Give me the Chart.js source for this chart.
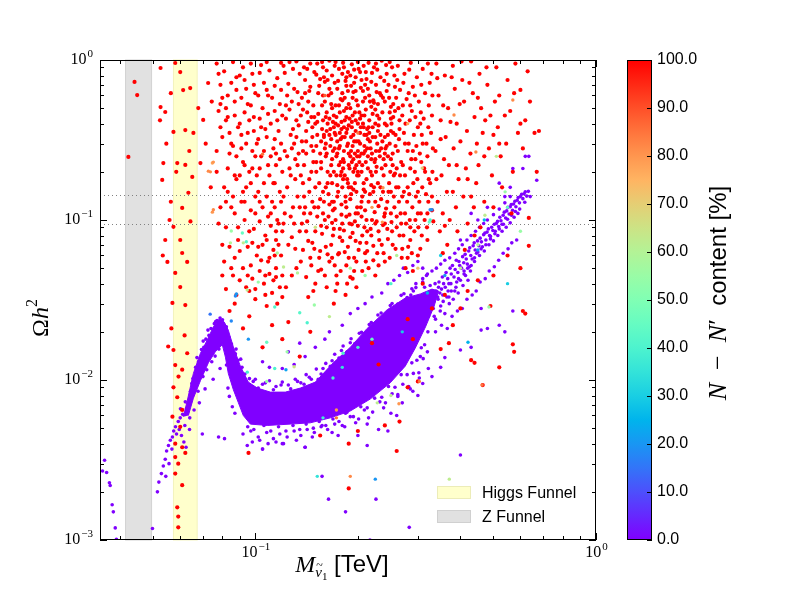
<!DOCTYPE html>
<html lang="en">
<head>
    <meta charset="UTF-8">
    <title>Sneutrino relic density</title>
    <script src="https://cdn.jsdelivr.net/npm/chart.js"></script>
    <style>
        body { margin: 0; background: #fff; }
        canvas { display: block; }
    </style>
</head>
<body>
<canvas id="relic" width="800" height="600"></canvas>
<script>
// axis ranges and reference bands (TeV / Omega h^2)
const xRange = [0.035, 1];
const yRange = [0.001, 1];
const zFunnel = [0.0416, 0.0496];
const higgsFunnel = [0.0575, 0.0675];
const relicBounds = [0.094, 0.143];

// tick values and labels
const xMajorTicks = [0.1, 1];
const xMajorExp = ['\u22121', '0'];
const xMinorTicks = [0.04, 0.05, 0.06, 0.07, 0.08, 0.09, 0.2, 0.3, 0.4, 0.5, 0.6, 0.7, 0.8, 0.9];
const yMajorTicks = [0.001, 0.01, 0.1, 1];
const yMajorExp = ['\u22123', '\u22122', '\u22121', '0'];
const yMinorTicks = [0.002, 0.003, 0.004, 0.005, 0.006, 0.007, 0.008, 0.009,
    0.02, 0.03, 0.04, 0.05, 0.06, 0.07, 0.08, 0.09,
    0.2, 0.3, 0.4, 0.5, 0.6, 0.7, 0.8, 0.9];
const cbTicks = [0, 10, 20, 30, 40, 50, 60, 70, 80, 90, 100];

// N-N' content ~100%  (red)
const redCloud = [
    [0.121,0.92],[0.125,0.71],[0.128,0.55],[0.123,0.43],[0.127,0.34],[0.122,0.27],[0.126,0.21],[0.124,0.16],[0.129,0.12],[0.121,0.095],[0.128,0.078],
    [0.132,0.98],[0.135,0.82],[0.133,0.63],[0.138,0.49],[0.134,0.39],[0.137,0.31],[0.131,0.24],[0.136,0.19],[0.133,0.14],[0.139,0.11],[0.135,0.085],[0.131,0.066],
    [0.142,0.88],[0.145,0.68],[0.148,0.52],[0.143,0.41],[0.147,0.33],[0.141,0.26],[0.146,0.2],[0.144,0.15],[0.149,0.12],[0.142,0.098],[0.147,0.072],[0.145,0.058],
    [0.152,0.95],[0.155,0.76],[0.158,0.6],[0.153,0.46],[0.157,0.37],[0.151,0.29],[0.156,0.23],[0.154,0.17],[0.159,0.13],[0.152,0.105],[0.157,0.082],[0.155,0.064],[0.153,0.048],
    [0.162,0.86],[0.165,0.66],[0.168,0.5],[0.163,0.4],[0.167,0.32],[0.161,0.25],[0.166,0.19],[0.164,0.145],[0.169,0.115],[0.162,0.09],[0.167,0.07],[0.165,0.055],
    [0.172,0.97],[0.175,0.74],[0.178,0.57],[0.173,0.44],[0.177,0.35],[0.171,0.28],[0.176,0.22],[0.174,0.165],[0.179,0.125],[0.172,0.1],[0.177,0.078],[0.175,0.061],[0.173,0.045],
    [0.182,0.9],[0.185,0.69],[0.188,0.53],[0.183,0.42],[0.187,0.3],[0.181,0.24],[0.186,0.18],[0.184,0.14],[0.189,0.108],[0.182,0.086],[0.187,0.068],[0.185,0.052],
    [0.192,0.94],[0.195,0.72],[0.198,0.56],[0.193,0.45],[0.197,0.36],[0.191,0.27],[0.196,0.21],[0.194,0.155],[0.199,0.12],[0.192,0.094],[0.197,0.074],[0.195,0.058],[0.193,0.043],
    [0.203,0.84],[0.207,0.64],[0.211,0.49],[0.204,0.38],[0.209,0.29],[0.202,0.23],[0.208,0.17],[0.205,0.13],[0.212,0.1],[0.206,0.08],[0.21,0.062],
    [0.215,0.96],[0.219,0.73],[0.223,0.54],[0.216,0.42],[0.221,0.33],[0.214,0.25],[0.22,0.19],[0.217,0.145],[0.224,0.112],[0.218,0.088],[0.222,0.069],
    [0.228,0.87],[0.232,0.62],[0.236,0.47],[0.229,0.36],[0.234,0.28],[0.227,0.215],[0.233,0.16],[0.23,0.122],[0.237,0.093],[0.231,0.075],
    [0.242,0.93],[0.246,0.7],[0.25,0.51],[0.243,0.39],[0.248,0.3],[0.241,0.22],[0.247,0.17],[0.244,0.13],[0.251,0.097],[0.245,0.076],
    [0.256,0.8],[0.259,0.58],[0.254,0.44],[0.258,0.34],[0.253,0.26],[0.257,0.195],[0.255,0.14],[0.26,0.105],
    [0.124,0.6],[0.13,0.3],[0.14,0.75],[0.139,0.22],[0.15,0.4],[0.15,0.16],[0.16,0.55],[0.16,0.28],[0.17,0.45],[0.17,0.2],[0.17,0.13],
    [0.18,0.62],[0.18,0.33],[0.18,0.16],[0.19,0.5],[0.19,0.25],[0.19,0.135],[0.2,0.4],[0.2,0.2],[0.2,0.11],[0.21,0.58],[0.21,0.27],
    [0.21,0.15],[0.225,0.4],[0.225,0.24],[0.225,0.13],[0.24,0.55],[0.24,0.26],[0.24,0.11],[0.25,0.36],[0.25,0.15],
    [0.163,0.75],[0.176,0.88],[0.19,0.8],[0.205,0.75],[0.22,0.83],[0.145,0.95],[0.165,0.99],[0.185,0.78],[0.2,0.97],[0.235,0.99],
    [0.168,0.24],[0.182,0.27],[0.178,0.19],[0.196,0.17],[0.188,0.22],[0.174,0.31],[0.159,0.34],[0.17,0.38],[0.186,0.37],[0.201,0.31],[0.179,0.41],[0.193,0.29],
    [0.137,0.58],[0.141,0.36],[0.148,0.27],[0.153,0.62],[0.156,0.31],[0.161,0.44],[0.163,0.2],[0.167,0.53],[0.171,0.35],[0.174,0.26],
    [0.177,0.47],[0.181,0.18],[0.183,0.58],[0.186,0.29],[0.189,0.43],[0.191,0.16],[0.194,0.34],[0.197,0.64],[0.199,0.25],[0.202,0.47],
    [0.206,0.14],[0.208,0.38],[0.211,0.23],[0.214,0.66],[0.217,0.31],[0.221,0.46],[0.226,0.2],[0.229,0.53],[0.233,0.34],[0.238,0.24],
    [0.179,0.108],[0.168,0.096],[0.158,0.11],[0.185,0.12],[0.196,0.098],[0.213,0.085],[0.143,0.074],[0.176,0.062],[0.161,0.068],[0.201,0.065],
    [0.132,0.42],[0.127,0.19],[0.139,0.14],[0.149,0.84],[0.171,0.72],[0.195,0.87],[0.208,0.92],[0.226,0.7],[0.243,0.82],[0.158,0.9],
    [0.122,0.83],[0.126,0.49],[0.129,0.37],[0.124,0.25],[0.121,0.14],[0.127,0.105],[0.13,0.66],[0.134,0.53],[0.136,0.45],[0.132,0.33],
    [0.138,0.27],[0.131,0.18],[0.135,0.12],[0.137,0.095],[0.14,0.62],[0.143,0.55],[0.146,0.44],[0.141,0.31],[0.148,0.23],[0.144,0.18],
    [0.147,0.13],[0.141,0.085],[0.149,0.066],[0.151,0.81],[0.154,0.69],[0.157,0.52],[0.152,0.41],[0.159,0.33],[0.155,0.26],[0.151,0.2],
    [0.158,0.15],[0.153,0.12],[0.156,0.092],[0.16,0.73],[0.164,0.6],[0.162,0.47],[0.166,0.37],[0.161,0.3],[0.167,0.22],[0.163,0.17],
    [0.168,0.13],[0.164,0.105],[0.169,0.08],[0.171,0.92],[0.174,0.66],[0.176,0.52],[0.172,0.4],[0.178,0.32],[0.173,0.25],[0.179,0.2],
    [0.175,0.15],[0.171,0.118],[0.177,0.088],[0.18,0.82],[0.184,0.74],[0.187,0.64],[0.182,0.48],[0.188,0.39],[0.183,0.33],[0.181,0.21],
    [0.187,0.17],[0.184,0.13],[0.189,0.095],[0.191,0.69],[0.193,0.58],[0.196,0.47],[0.192,0.38],[0.198,0.31],[0.194,0.24],[0.199,0.19],
    [0.191,0.145],[0.197,0.11],[0.193,0.083],[0.201,0.88],[0.204,0.67],[0.207,0.55],[0.203,0.43],[0.209,0.34],[0.205,0.26],[0.201,0.19],
    [0.208,0.155],[0.204,0.12],[0.209,0.09],[0.212,0.76],[0.216,0.6],[0.219,0.51],[0.213,0.37],[0.218,0.28],[0.214,0.21],[0.219,0.165],
    [0.215,0.13],[0.212,0.072],[0.223,0.9],[0.227,0.63],[0.225,0.49],[0.221,0.38],[0.228,0.3],[0.224,0.23],[0.229,0.17],[0.222,0.15],
    [0.227,0.098],[0.233,0.78],[0.237,0.58],[0.231,0.43],[0.236,0.31],[0.232,0.25],[0.238,0.19],[0.234,0.135],[0.239,0.105],[0.243,0.64],
    [0.248,0.47],[0.245,0.34],[0.241,0.28],[0.249,0.2],[0.246,0.15],[0.242,0.118],[0.252,0.9],[0.257,0.68],[0.254,0.53],[0.251,0.4],
    [0.258,0.29],[0.253,0.22],[0.259,0.16],[0.256,0.12],[0.252,0.085],
    [0.128,0.28],[0.133,0.22],[0.142,0.47],[0.147,0.38],[0.152,0.34],[0.158,0.42],[0.162,0.26],[0.166,0.29],[0.169,0.41],[0.173,0.19],
    [0.176,0.28],[0.179,0.37],[0.182,0.23],[0.185,0.44],[0.188,0.26],[0.191,0.33],[0.194,0.2],[0.197,0.42],[0.2,0.27],[0.203,0.35],
    [0.206,0.22],[0.209,0.45],[0.213,0.28],[0.216,0.35],[0.219,0.24],[0.222,0.56],[0.226,0.27],[0.23,0.39],[0.235,0.21],[0.24,0.33],
    [0.245,0.25],[0.25,0.43],[0.255,0.19],
    [0.125,0.07],[0.138,0.065],[0.146,0.052],[0.154,0.058],[0.163,0.061],[0.171,0.052],[0.18,0.074],[0.188,0.058],[0.195,0.048],[0.203,0.072],
    [0.211,0.055],[0.219,0.08],[0.228,0.062],[0.235,0.07],[0.244,0.088],[0.253,0.07],[0.16,0.045],[0.178,0.048],[0.186,0.04],[0.198,0.038],
    [0.215,0.05],[0.225,0.045],[0.24,0.055],[0.15,0.04],[0.132,0.05],
    [0.126,0.97],[0.139,0.9],[0.157,0.97],[0.168,0.8],[0.181,0.96],[0.197,0.78],[0.211,0.84],[0.226,0.95],[0.239,0.74],[0.248,0.97],
    [0.123,0.52],[0.129,0.88],[0.134,0.26],[0.138,0.17],[0.144,0.64],[0.149,0.44],[0.151,0.23],[0.155,0.135],[0.159,0.78],[0.161,0.16],
    [0.165,0.34],[0.167,0.62],[0.169,0.27],[0.172,0.52],[0.174,0.14],[0.177,0.29],[0.18,0.56],[0.183,0.19],[0.185,0.35],[0.187,0.84],
    [0.189,0.21],[0.192,0.41],[0.194,0.63],[0.196,0.26],[0.198,0.15],[0.2,0.52],[0.203,0.3],[0.205,0.2],[0.207,0.4],[0.21,0.7],
    [0.212,0.18],[0.214,0.32],[0.217,0.55],[0.22,0.26],[0.223,0.16],[0.225,0.33],[0.228,0.45],[0.231,0.27],[0.234,0.6],[0.237,0.15],
    [0.24,0.4],[0.243,0.29],[0.247,0.58],[0.25,0.24],[0.254,0.35],[0.257,0.48],[0.26,0.21],
    [0.165,0.43],[0.175,0.39],[0.185,0.5],[0.195,0.31],[0.205,0.45],[0.215,0.38],[0.168,0.17],[0.178,0.23],[0.188,0.16],[0.198,0.22],
    [0.208,0.26],[0.218,0.2],[0.182,0.38],[0.192,0.23],[0.202,0.25],[0.212,0.34],[0.172,0.34],[0.162,0.36],[0.156,0.21],[0.146,0.29],
    [0.128,0.045],[0.136,0.055],[0.141,0.044],[0.148,0.036],[0.156,0.049],[0.162,0.038],[0.168,0.058],[0.174,0.04],[0.183,0.063],[0.19,0.044],
    [0.198,0.055],[0.206,0.048],[0.213,0.064],[0.222,0.056],[0.23,0.052],[0.238,0.062],[0.248,0.058],[0.258,0.066],[0.184,0.034],[0.172,0.036],
    [0.143,0.033],[0.123,0.038],
    [0.122,0.11],[0.13,0.095],[0.14,0.12],[0.15,0.085],[0.16,0.1],[0.17,0.088],[0.18,0.095],[0.19,0.078],[0.2,0.092],[0.21,0.115],
    [0.22,0.1],[0.23,0.085],[0.24,0.095],[0.25,0.11],[0.26,0.09],[0.145,0.11],[0.165,0.125],[0.185,0.105],[0.205,0.105],[0.225,0.095]
];
const redLeft = [
    [0.077,0.95],[0.079,0.7],[0.078,0.48],[0.08,0.33],[0.077,0.2],[0.079,0.12],[0.081,0.85],[0.083,0.6],[0.082,0.42],[0.084,0.26],[0.083,0.15],[0.082,0.09],[0.081,0.055],
    [0.086,0.97],[0.088,0.78],[0.087,0.55],[0.089,0.38],[0.086,0.29],[0.088,0.18],[0.087,0.11],[0.089,0.075],[0.086,0.045],[0.088,0.034],
    [0.092,0.9],[0.094,0.66],[0.093,0.47],[0.095,0.35],[0.092,0.23],[0.094,0.16],[0.093,0.1],[0.095,0.068],[0.092,0.05],[0.094,0.038],
    [0.098,0.82],[0.1,0.62],[0.099,0.44],[0.101,0.3],[0.098,0.21],[0.1,0.14],[0.099,0.088],[0.101,0.06],[0.098,0.043],[0.1,0.032],
    [0.104,0.93],[0.106,0.72],[0.105,0.5],[0.107,0.37],[0.104,0.25],[0.106,0.17],[0.105,0.12],[0.107,0.08],[0.104,0.056],[0.106,0.04],
    [0.11,0.86],[0.112,0.58],[0.111,0.4],[0.113,0.28],[0.11,0.19],[0.112,0.13],[0.111,0.092],[0.113,0.065],[0.11,0.046],[0.112,0.035],
    [0.116,0.77],[0.118,0.53],[0.117,0.36],[0.115,0.22],[0.118,0.15],[0.116,0.1],[0.117,0.07],[0.115,0.05],[0.118,0.038],
    [0.084,0.027],[0.096,0.025],[0.108,0.029],[0.092,0.021],[0.12,0.045],[0.12,0.033],
    [0.078,0.82],[0.08,0.58],[0.079,0.38],[0.077,0.27],[0.081,0.16],[0.078,0.095],[0.08,0.07],[0.082,0.5],[0.084,0.35],[0.083,0.21],
    [0.085,0.12],[0.084,0.068],[0.085,0.72],[0.087,0.45],[0.088,0.25],[0.086,0.14],[0.089,0.09],[0.087,0.058],[0.09,0.8],[0.091,0.58],
    [0.09,0.4],[0.091,0.28],[0.09,0.19],[0.091,0.13],[0.09,0.064],[0.093,0.75],[0.095,0.53],[0.094,0.3],[0.096,0.2],[0.093,0.13],
    [0.096,0.085],[0.097,0.95],[0.099,0.7],[0.097,0.52],[0.099,0.36],[0.1,0.25],[0.097,0.17],[0.1,0.11],[0.098,0.072],[0.103,0.83],
    [0.102,0.6],[0.103,0.43],[0.102,0.32],[0.103,0.21],[0.102,0.15],[0.103,0.098],[0.102,0.068],[0.108,0.97],[0.108,0.65],[0.109,0.46],
    [0.108,0.33],[0.109,0.22],[0.108,0.14],[0.109,0.105],[0.108,0.075],[0.109,0.055],[0.114,0.69],[0.114,0.48],[0.114,0.32],[0.115,0.26],
    [0.114,0.17],[0.114,0.12],[0.115,0.085],[0.114,0.06],[0.119,0.96],[0.119,0.65],[0.12,0.45],[0.119,0.3],[0.12,0.2],[0.119,0.13],
    [0.12,0.085],[0.119,0.06],[0.082,0.037],[0.09,0.042],[0.097,0.052],[0.103,0.048],[0.107,0.034],[0.113,0.042],[0.116,0.03],[0.087,0.03],[0.1,0.037],
    [0.079,0.53],[0.083,0.44],[0.085,0.3],[0.088,0.65],[0.091,0.34],[0.093,0.22],[0.096,0.42],[0.098,0.27],[0.101,0.19],[0.104,0.38],
    [0.106,0.27],[0.109,0.6],[0.111,0.25],[0.113,0.17],[0.116,0.42],[0.118,0.24],[0.082,0.13],[0.087,0.19],[0.092,0.15],[0.097,0.115],
    [0.103,0.13],[0.111,0.11],[0.117,0.095],[0.08,0.045],[0.085,0.05],[0.095,0.045],[0.105,0.07],[0.11,0.058],[0.115,0.075],
    [0.115,0.044],[0.107,0.045],[0.096,0.036]
];
const redRight = [
    [0.262,0.92],[0.266,0.65],[0.27,0.45],[0.264,0.32],[0.268,0.23],[0.263,0.16],[0.267,0.11],[0.265,0.08],[0.269,0.058],
    [0.274,0.82],[0.278,0.57],[0.276,0.4],[0.28,0.27],[0.275,0.19],[0.279,0.13],[0.277,0.095],[0.281,0.068],[0.276,0.05],
    [0.286,0.96],[0.29,0.68],[0.288,0.48],[0.292,0.34],[0.287,0.24],[0.291,0.17],[0.289,0.12],[0.293,0.085],[0.288,0.062],
    [0.298,0.78],[0.302,0.55],[0.3,0.38],[0.304,0.26],[0.299,0.18],[0.303,0.13],[0.301,0.09],[0.305,0.066],
    [0.31,0.88],[0.315,0.62],[0.312,0.43],[0.318,0.3],[0.313,0.21],[0.317,0.145],[0.314,0.1],[0.32,0.075],
    [0.325,0.72],[0.328,0.35],[0.326,0.17],[0.33,0.115],
    [0.261,0.75],[0.263,0.5],[0.265,0.37],[0.262,0.27],[0.266,0.19],[0.264,0.13],[0.268,0.095],[0.27,0.066],[0.272,0.72],[0.271,0.52],
    [0.273,0.35],[0.271,0.22],[0.273,0.15],[0.275,0.11],[0.283,0.87],[0.282,0.62],[0.284,0.42],[0.282,0.3],[0.285,0.21],[0.283,0.145],
    [0.284,0.1],[0.285,0.075],[0.294,0.6],[0.295,0.44],[0.297,0.29],[0.294,0.2],[0.296,0.14],[0.295,0.1],[0.307,0.7],[0.306,0.47],
    [0.308,0.34],[0.307,0.23],[0.309,0.16],[0.306,0.11],[0.308,0.08],[0.321,0.95],[0.323,0.52],[0.322,0.38],[0.32,0.25],[0.323,0.18],
    [0.322,0.13],[0.319,0.09],[0.329,0.82],[0.331,0.6],[0.33,0.45],[0.332,0.28],[0.331,0.2],[0.33,0.14],[0.333,0.098],[0.28,0.058],[0.3,0.06],[0.29,0.048],
    [0.265,0.42],[0.275,0.3],[0.285,0.52],[0.295,0.24],[0.305,0.4],[0.315,0.2],[0.27,0.14],[0.28,0.16],[0.29,0.27],[0.3,0.15],
    [0.31,0.3],[0.32,0.11],[0.272,0.08],[0.285,0.09],[0.3,0.11]
];
const redSparse = [
    [0.34,0.95],[0.345,0.6],[0.35,0.42],[0.338,0.27],[0.352,0.19],[0.343,0.13],[0.348,0.085],[0.355,0.062],
    [0.36,0.8],[0.368,0.5],[0.362,0.33],[0.37,0.22],[0.365,0.15],[0.372,0.1],[0.366,0.07],
    [0.38,0.92],[0.385,0.66],[0.39,0.4],[0.382,0.28],[0.395,0.18],[0.388,0.12],[0.392,0.085],
    [0.405,0.75],[0.41,0.55],[0.4,0.31],[0.415,0.21],[0.408,0.14],[0.42,0.095],[0.412,0.065],
    [0.43,0.98],[0.435,0.62],[0.44,0.44],[0.428,0.26],[0.445,0.17],[0.438,0.12],
    [0.455,0.82],[0.46,0.5],[0.465,0.35],[0.452,0.22],[0.47,0.13],[0.458,0.09],
    [0.48,0.7],[0.49,0.45],[0.485,0.28],[0.495,0.19],[0.5,0.12],
    [0.51,0.9],[0.52,0.6],[0.515,0.38],[0.525,0.25],[0.53,0.16],
    [0.55,0.75],[0.56,0.48],[0.545,0.3],[0.57,0.2],[0.565,0.11],
    [0.58,0.95],[0.6,0.65],[0.62,0.42],[0.61,0.28],[0.64,0.55],[0.66,0.35],[0.63,0.85],[0.68,0.36],[0.67,0.2],[0.635,0.103],[0.635,0.069],
    [0.342,0.77],[0.35,0.32],[0.356,0.52],[0.358,0.24],[0.374,0.41],[0.377,0.78],[0.39,0.22],[0.398,0.53],[0.403,0.98],[0.418,0.36],
    [0.425,0.72],[0.447,0.3],[0.45,0.58],[0.473,0.42],[0.477,0.9],[0.505,0.55],[0.52,0.3],[0.54,0.45],[0.575,0.62],[0.59,0.35],
    [0.34,0.18],[0.355,0.11],[0.36,0.092],[0.38,0.15],[0.42,0.18],[0.43,0.14],[0.44,0.08],[0.47,0.25],[0.5,0.34],[0.6,0.4]
];
const redLow = [
    [0.49,0.029],[0.61,0.027],[0.62,0.026],[0.57,0.0167],[0.575,0.015],[0.52,0.012],[0.465,0.0093],[0.43,0.0133],[0.44,0.0128],[0.35,0.0156],
    [0.37,0.017],[0.3,0.0098],[0.28,0.009],[0.26,0.0036],[0.265,0.0055],[0.188,0.004],[0.188,0.0021],[0.24,0.0052],[0.155,0.0045],[0.2,0.0048],
    [0.36,0.034],[0.38,0.022],[0.42,0.036],[0.33,0.028],[0.31,0.04],[0.29,0.018],[0.23,0.0125],[0.22,0.017],[0.135,0.014],[0.145,0.02],
    [0.17,0.03],[0.12,0.018],[0.125,0.023],[0.105,0.016],[0.112,0.022],[0.28,0.024],[0.4,0.028],[0.45,0.042],[0.5,0.045],[0.55,0.06],[0.6,0.05],[0.0955,0.0035]
];
const redFunnel = [
    [0.0442,0.729],[0.045,0.604],[0.0424,0.248],
    [0.0527,0.891],[0.0582,0.958],[0.0602,0.841],[0.0614,0.649],[0.0644,0.668],[0.0527,0.508],[0.0544,0.473],[0.0575,0.355],[0.0623,0.365],
    [0.0658,0.35],[0.0537,0.227],[0.0533,0.178],[0.059,0.227],[0.0623,0.221],[0.0653,0.186],[0.0636,0.148],[0.061,0.119],[0.0575,0.0906],
    [0.0602,0.075],[0.0544,0.075],[0.0552,0.0547],[0.061,0.0622],[0.0631,0.0547],[0.0582,0.0467],[0.0602,0.0381],[0.068,0.501],[0.069,0.227],
    [0.0703,0.422],[0.0727,0.718],[0.0571,0.0303],[0.0623,0.0294],[0.0555,0.0162],[0.0575,0.0154],[0.0631,0.0147],[0.0582,0.0124],[0.061,0.0116],
    [0.059,0.0078],[0.0571,0.0059],[0.061,0.0065],[0.0602,0.0051],[0.0582,0.004],[0.061,0.0038],[0.0594,0.003],[0.0582,0.0026],[0.061,0.0022],
    [0.059,0.0016],[0.0594,0.0014],[0.0594,0.0012],[0.0623,0.0035],[0.0582,0.0033],[0.0548,0.3],[0.0565,0.62],[0.0565,0.13],[0.0586,0.2],
    [0.064,0.27],[0.0525,0.42],[0.056,0.1],[0.0645,0.098],[0.0535,0.06],[0.0567,0.021],[0.062,0.019],[0.0575,0.009],[0.0595,0.0105],
    [0.0715,0.3],[0.074,0.16],[0.0745,0.55]
];

// N-N' content ~0%  (violet): outline of the solid band, then the loose points
const violetCore = [
    [0.0615,0.0059],[0.0632,0.0075],[0.0658,0.011],[0.069,0.0147],[0.0723,0.0178],[0.0753,0.0215],[0.0784,0.0241],[0.0811,0.023],
    [0.0833,0.0205],[0.0862,0.0161],[0.0904,0.0122],[0.0954,0.0097],[0.1014,0.0089],[0.1107,0.0084],[0.1225,0.0084],[0.1355,0.0089],
    [0.15,0.0097],[0.1693,0.0128],[0.19,0.016],[0.2129,0.021],[0.2438,0.0275],[0.2754,0.0325],[0.305,0.0345],[0.33,0.037],[0.345,0.036],
    [0.335,0.029],[0.316,0.0215],[0.2946,0.0158],[0.2754,0.0122],[0.2489,0.0096],[0.2174,0.0076],[0.19,0.0064],[0.166,0.0058],[0.145,0.0054],
    [0.1266,0.0053],[0.1084,0.0052],[0.0967,0.0053],[0.0922,0.006],[0.0892,0.0072],[0.0862,0.0087],[0.0833,0.011],[0.0817,0.0139],
    [0.08,0.0166],[0.0763,0.015],[0.0728,0.0128],[0.069,0.0099],[0.0658,0.0077],[0.0636,0.006]
];
const violetTail = [
    [0.0356,0.0027],[0.0361,0.00315],[0.0366,0.00264],[0.0373,0.00228],[0.0375,0.00219],[0.038,0.00166],[0.0383,0.0015],[0.0388,0.00119],[0.0391,0.00101],
    [0.0499,0.00118],[0.0516,0.002],[0.0521,0.0023],[0.053,0.0026],[0.0537,0.0029],[0.0544,0.0032],[0.0549,0.0036],[0.0556,0.0039],[0.0563,0.0042],
    [0.0571,0.0044],[0.0576,0.0048],[0.0583,0.0051],[0.0594,0.0055],[0.0602,0.0058],[0.0546,0.0025],[0.0558,0.003],[0.0569,0.0037],[0.0587,0.0046],
    [0.0598,0.0049],[0.0607,0.0045],[0.0617,0.0041],[0.0626,0.0038],[0.0621,0.0052],[0.0612,0.0061],[0.0603,0.0066],[0.0641,0.0049],[0.0699,0.0046],
    [0.078,0.0044],[0.0812,0.0043]
];
const violetPeak = [
    [0.0628,0.0066],[0.0645,0.0085],[0.0651,0.0095],[0.0668,0.012],[0.0681,0.013],[0.0695,0.0155],[0.0706,0.016],[0.0716,0.018],[0.0731,0.019],
    [0.0741,0.021],[0.0758,0.0225],[0.0772,0.0235],[0.0788,0.0244],[0.0801,0.0238],[0.0822,0.0215],[0.0623,0.0073],[0.0642,0.0058],[0.0661,0.0065],
    [0.0679,0.0085],[0.0702,0.0105],[0.072,0.0116],[0.0745,0.013],[0.0762,0.0141],[0.0782,0.0156],[0.0656,0.0102],[0.0674,0.0138],[0.0703,0.0175],
    [0.0726,0.0205],[0.0765,0.0232],[0.0836,0.0185],[0.0851,0.0168],[0.0874,0.0146],[0.0889,0.0133],[0.0914,0.012],[0.0932,0.0109],[0.0961,0.0102],
    [0.0986,0.0098],[0.0878,0.0156],[0.0906,0.0135],[0.0823,0.0124],[0.0839,0.0079],[0.0856,0.0068],[0.0871,0.0062],[0.0831,0.0089],[0.0788,0.0118],
    [0.0752,0.0101],[0.0712,0.0088],[0.0685,0.0072],[0.0737,0.0158],[0.0778,0.0198],[0.0815,0.0188]
];
const violetBowl = [
    [0.092,0.0046],[0.097,0.0048],[0.102,0.0044],[0.108,0.0047],[0.113,0.0043],[0.118,0.0046],[0.124,0.0044],[0.13,0.0048],[0.136,0.0045],[0.142,0.0049],
    [0.149,0.0047],[0.156,0.0051],[0.163,0.0049],[0.171,0.0053],[0.18,0.0052],[0.19,0.0059],[0.201,0.0057],[0.209,0.0065],[0.221,0.0063],[0.232,0.0073],
    [0.241,0.0072],[0.252,0.0082],[0.262,0.0081],[0.271,0.0094],[0.282,0.0091],[0.291,0.011],[0.302,0.0111],[0.311,0.0136],
    [0.1,0.0101],[0.105,0.0094],[0.11,0.0099],[0.115,0.0091],[0.12,0.0097],[0.125,0.0093],[0.131,0.0101],[0.136,0.0096],[0.141,0.0108],[0.146,0.0101],
    [0.151,0.0117],[0.156,0.0109],[0.161,0.0127],[0.166,0.0122],[0.171,0.0145],[0.176,0.0137],[0.181,0.0163],[0.186,0.015],[0.191,0.0181],[0.196,0.0169],
    [0.202,0.0196],[0.208,0.0186],[0.216,0.0222],[0.222,0.0212],[0.229,0.0255],[0.238,0.0245],[0.249,0.0292],[0.259,0.0285],[0.268,0.0338],[0.279,0.0328],[0.288,0.0372],
    [0.0947,0.0039],[0.098,0.0041],[0.103,0.0042],[0.109,0.004],[0.115,0.0041],[0.121,0.004],[0.14,0.0038],[0.105,0.0037],[0.132,0.0042],[0.147,0.0044],
    [0.168,0.0047],[0.183,0.0051],[0.197,0.0054],[0.215,0.0058],[0.238,0.0067],[0.262,0.0079],[0.285,0.0088],[0.303,0.0103],[0.322,0.0118],
    [0.102,0.0089],[0.107,0.0096],[0.113,0.0087],[0.119,0.0093],[0.127,0.0088],[0.133,0.0098],[0.139,0.0094],[0.144,0.0104],[0.153,0.0101],[0.158,0.0118],
    [0.163,0.0113],[0.168,0.0132],[0.174,0.013],[0.179,0.0153],[0.184,0.0145],[0.19,0.0171],[0.198,0.0165],[0.205,0.0199],[0.213,0.0198],[0.219,0.0229],
    [0.226,0.0224],[0.234,0.0262],[0.243,0.0258],[0.252,0.0301],[0.262,0.0298],[0.273,0.0346],[0.286,0.034],[0.296,0.0378],
    [0.095,0.0051],[0.099,0.0049],[0.106,0.0052],[0.111,0.0048],[0.117,0.0051],[0.123,0.0048],[0.129,0.0052],[0.135,0.0049],[0.141,0.0053],[0.148,0.005],
    [0.154,0.0055],[0.161,0.0052],[0.169,0.0057],[0.176,0.0055],[0.184,0.0062],[0.194,0.0059],[0.204,0.0068],[0.213,0.0067],[0.224,0.0077],[0.235,0.0078],
    [0.246,0.0091],[0.257,0.009],[0.268,0.0108],[0.279,0.0108],[0.288,0.0128],[0.298,0.0133],[0.307,0.0159],[0.314,0.0166],[0.321,0.02]
];
const violetAbove = [
    [0.165,0.02],[0.18,0.022],[0.19,0.026],[0.2,0.028],[0.21,0.03],[0.22,0.033],[0.235,0.035],[0.245,0.04],[0.255,0.042],[0.265,0.045],[0.272,0.05],
    [0.28,0.047],[0.29,0.052],[0.3,0.055],[0.31,0.05],[0.15,0.016],[0.16,0.018],[0.14,0.014],[0.13,0.0125],[0.12,0.0118],[0.11,0.012],[0.105,0.013],
    [0.125,0.015],[0.135,0.017],[0.62,0.25],[0.635,0.25],[0.61,0.21],[0.67,0.177],[0.57,0.21],[0.56,0.16],[0.52,0.17],[0.43,0.11],[0.4,0.075],
    [0.45,0.1],[0.48,0.12],[0.54,0.14]
];
const violetTrack = [
    [0.302,0.029],[0.305,0.033],[0.307,0.025],[0.311,0.03],[0.314,0.038],[0.317,0.028],[0.319,0.031],[0.323,0.035],[0.326,0.039],[0.328,0.029],
    [0.331,0.034],[0.334,0.031],[0.337,0.04],[0.339,0.036],[0.343,0.033],[0.346,0.041],[0.348,0.035],[0.352,0.037],[0.354,0.044],[0.357,0.04],
    [0.361,0.038],[0.363,0.047],[0.367,0.043],[0.37,0.04],[0.373,0.05],[0.376,0.046],[0.379,0.052],[0.383,0.044],[0.386,0.049],[0.389,0.056],
    [0.393,0.047],[0.396,0.055],[0.398,0.052],[0.403,0.05],[0.406,0.059],[0.409,0.054],[0.413,0.061],[0.416,0.057],[0.419,0.053],[0.423,0.064],
    [0.426,0.067],[0.429,0.06],[0.433,0.057],[0.436,0.069],[0.439,0.072],[0.442,0.065],[0.446,0.062],[0.449,0.074],[0.453,0.069],[0.457,0.077],
    [0.461,0.073],[0.464,0.068],[0.468,0.081],[0.472,0.083],[0.475,0.075],[0.479,0.084],[0.483,0.088],[0.487,0.08],[0.49,0.076],[0.494,0.09],
    [0.498,0.086],[0.503,0.094],[0.506,0.085],[0.51,0.095],[0.514,0.098],[0.518,0.091],[0.522,0.104],[0.526,0.099],[0.53,0.094],[0.534,0.107],
    [0.538,0.112],[0.543,0.103],[0.547,0.114],[0.551,0.12],[0.556,0.109],[0.56,0.121],[0.564,0.125],[0.569,0.115],[0.573,0.126],[0.578,0.131],
    [0.582,0.121],[0.587,0.133],[0.591,0.138],[0.596,0.128],[0.6,0.14],[0.605,0.145],[0.61,0.136],[0.615,0.146],[0.62,0.15],[0.626,0.141],
    [0.633,0.151],[0.641,0.14],[0.618,0.129],[0.597,0.117],
    [0.275,0.023],[0.283,0.026],[0.288,0.021],[0.294,0.027],[0.297,0.032],[0.301,0.023],[0.306,0.028],[0.313,0.022],[0.316,0.032],[0.322,0.025],
    [0.327,0.034],[0.333,0.028],[0.338,0.024],[0.344,0.032],[0.349,0.027],[0.356,0.031],[0.36,0.026],[0.365,0.033],[0.371,0.03],[0.376,0.036],
    [0.381,0.032],[0.388,0.038],[0.394,0.035],[0.4,0.042],[0.407,0.039],[0.414,0.045],[0.421,0.042],[0.428,0.048],[0.284,0.031],[0.291,0.036],
    [0.296,0.04],[0.31,0.043],[0.32,0.046],
    [0.338,0.02],[0.352,0.022],[0.366,0.021],[0.378,0.025],[0.392,0.027],[0.405,0.028],[0.418,0.032],[0.433,0.034],[0.445,0.036],[0.457,0.041],
    [0.473,0.043],[0.486,0.048],[0.503,0.051],[0.518,0.056],[0.534,0.062],[0.552,0.066],[0.566,0.072],[0.585,0.075],
    [0.31,0.041],[0.318,0.045],[0.33,0.048],[0.34,0.05],[0.35,0.053],[0.36,0.056],[0.372,0.058],[0.385,0.062],[0.395,0.066],[0.405,0.07],
    [0.418,0.075],[0.43,0.08],[0.443,0.085],[0.455,0.09],[0.468,0.095],[0.48,0.1],[0.5,0.108],[0.52,0.117],[0.54,0.128],[0.56,0.14],
    [0.335,0.025],[0.35,0.029],[0.37,0.033],[0.39,0.041],[0.41,0.046],[0.425,0.051],[0.44,0.055],[0.455,0.06],[0.47,0.064],[0.485,0.07],
    [0.5,0.074],[0.515,0.08],[0.53,0.085],[0.545,0.09],[0.56,0.096],[0.575,0.104],[0.59,0.11],
    [0.33,0.032],[0.345,0.038],[0.355,0.034],[0.368,0.036],[0.375,0.04],[0.385,0.036],[0.395,0.043],[0.41,0.048],[0.42,0.05],[0.43,0.052],
    [0.44,0.058],[0.45,0.063],[0.46,0.066],[0.475,0.07],[0.49,0.079],[0.505,0.082],[0.52,0.088],[0.535,0.094],[0.55,0.101],[0.565,0.107],[0.58,0.113]
];
const violetStray = [
    [0.157,0.0025],[0.164,0.0018],[0.184,0.0015],[0.217,0.001],[0.226,0.0018],[0.283,0.0012],[0.4,0.0034],[0.213,0.0039],[0.23,0.0049],[0.245,0.0048],
    [0.26,0.006],[0.186,0.0063],[0.175,0.0045],[0.157,0.0052],[0.213,0.0053],[0.305,0.014],[0.32,0.015],[0.36,0.0138],[0.4,0.0154],[0.43,0.016],
    [0.46,0.0205],[0.48,0.021],[0.52,0.022],[0.54,0.02],[0.57,0.027],[0.46,0.028],[0.33,0.0105],[0.35,0.012],[0.27,0.0072],[0.29,0.0085],
    [0.31,0.0095],[0.3,0.008],[0.25,0.0062],[0.2,0.0045],[0.14,0.0038],[0.12,0.004],[0.105,0.0037]
];

// mixed content points: [mass, relic density, N-N' content %]
const mixedPoints = [
    [0.0748,0.112,80],[0.0728,0.202,82],[0.0748,0.227,78],[0.085,0.0854,55],[0.0916,0.083,45],[0.0941,0.0731,42],[0.0845,0.072,60],[0.116,0.0622,58],
    [0.121,0.0508,62],[0.133,0.0467,60],[0.102,0.0409,55],[0.0874,0.0335,18],[0.0947,0.0365,62],
    [0.0737,0.0258,15],[0.085,0.0234,18],[0.0954,0.018,20],[0.108,0.0172,45],[0.114,0.0286,42],[0.124,0.015,55],[0.114,0.0118,40],[0.123,0.0116,22],
    [0.13,0.0121,65],[0.0947,0.0112,38],[0.108,0.0098,55],[0.142,0.0228,40],[0.135,0.0263,42],[0.149,0.0294,55],[0.165,0.0249,62],[0.169,0.0103,40],
    [0.158,0.0058,38],[0.173,0.0058,85],[0.181,0.0147,40],
    [0.152,0.0025,35],[0.19,0.0025,82],[0.225,0.0024,20],[0.371,0.0024,62],[0.485,0.0286,55],[0.421,0.0172,25],[0.463,0.0093,85],[0.228,0.0072,62],
    [0.264,0.0071,80],[0.303,0.0098,85],[0.173,0.0065,80],
    [0.51,0.25,62],[0.326,0.1,40],[0.33,0.116,18],[0.472,0.107,62],[0.309,0.211,70],[0.57,0.562,82],[0.383,0.453,82],[0.444,0.266,82],[0.541,0.15,55],
    [0.326,0.116,20],[0.324,0.097,45],
    [0.0753,0.23,80],[0.0738,0.2,82],[0.0753,0.116,82],[0.0922,0.072,62],[0.088,0.0345,20],[0.105,0.258,85],[0.237,0.159,82],[0.236,0.097,80],
    [0.2,0.35,85],[0.16,0.6,88],[0.22,0.12,80],[0.28,0.4,78],[0.15,0.09,65],[0.26,0.06,60],[0.3,0.05,72],[0.19,0.05,58],[0.21,0.045,55],
    [0.25,0.04,40],[0.35,0.06,30],[0.4,0.05,62],[0.45,0.065,20],[0.55,0.04,30],
    [0.2,0.016,40],[0.18,0.012,35],[0.22,0.018,45],[0.25,0.008,62],[0.27,0.02,30],[0.32,0.035,25],[0.36,0.045,20],[0.45,0.07,60],[0.47,0.1,25],
    [0.55,0.12,45],[0.6,0.085,55]
];

const RED = 'rgb(255,0,0)';
const VIOLET = 'rgb(128,0,255)';

// matplotlib "rainbow" colour map, v in percent
function rainbow(v) {
    const t = Math.max(0, Math.min(1, v / 100));
    const r = Math.min(1, Math.abs(2 * t - 0.5));
    const g = Math.sin(Math.PI * t);
    const b = Math.cos(Math.PI * t / 2);
    return `rgb(${Math.round(r * 255)},${Math.round(g * 255)},${Math.round(Math.max(0, b) * 255)})`;
}

const toXY = pts => pts.map(([x, y]) => ({x, y}));

function drawPower(ctx, exp, px, py, align) {
    ctx.font = '16px "Liberation Serif"';
    const wb = ctx.measureText('10').width;
    ctx.font = '11px "Liberation Serif"';
    const we = ctx.measureText(exp).width;
    const left = align === 'center' ? px - (wb + we) / 2 : px - wb - we - 1;
    ctx.textAlign = 'left';
    ctx.textBaseline = 'alphabetic';
    ctx.font = '16px "Liberation Serif"';
    ctx.fillText('10', left, py);
    ctx.font = '11px "Liberation Serif"';
    ctx.fillText(exp, left + wb + 1, py - 7);
}

// draws a run of [text, font, dy, accent] pieces centred on 0
function drawPieces(ctx, pieces) {
    let total = 0;
    pieces.forEach(p => { ctx.font = p[1]; p.w = ctx.measureText(p[0]).width; total += p.w; });
    let cx = -total / 2;
    ctx.textBaseline = 'alphabetic';
    pieces.forEach(p => {
        ctx.font = p[1];
        ctx.textAlign = 'left';
        ctx.fillText(p[0], cx, p[2] || 0);
        if (p[3]) {
            ctx.font = '12px "Liberation Serif"';
            ctx.textAlign = 'center';
            ctx.fillText(p[3], cx + p.w / 2 + 1, (p[2] || 0) - 8);
        }
        cx += p.w;
    });
}

const decor = {
    id: 'decor',
    beforeDatasetsDraw(chart) {
        const {ctx, chartArea: a, scales: {x, y}} = chart;
        ctx.save();
        // funnel bands
        [[zFunnel, '#e1e1e1', '#d2d2d2'], [higgsFunnel, '#ffffcc', '#f3f3bd']].forEach(([band, fill, edge]) => {
            const x0 = x.getPixelForValue(band[0]), x1 = x.getPixelForValue(band[1]);
            ctx.fillStyle = fill;
            ctx.fillRect(x0, a.top, x1 - x0, a.bottom - a.top);
            ctx.strokeStyle = edge;
            ctx.lineWidth = 1;
            ctx.strokeRect(x0, a.top, x1 - x0, a.bottom - a.top);
        });
        // relic density bounds
        ctx.strokeStyle = '#808080';
        ctx.lineWidth = 1;
        ctx.setLineDash([1, 3]);
        relicBounds.forEach(v => {
            const py = Math.round(y.getPixelForValue(v)) + 0.5;
            ctx.beginPath();
            ctx.moveTo(a.left, py);
            ctx.lineTo(a.right, py);
            ctx.stroke();
        });
        ctx.restore();
    },
    afterDraw(chart) {
        const {ctx, chartArea: a, scales: {x, y}} = chart;
        ctx.save();
        ctx.fillStyle = '#000';
        ctx.strokeStyle = '#000';
        ctx.lineWidth = 1;
        ctx.strokeRect(a.left + 0.5, a.top + 0.5, a.right - a.left - 1, a.bottom - a.top - 1);

        // inward ticks on all four sides
        ctx.beginPath();
        const xt = xMajorTicks.map(v => [v, 7]).concat(xMinorTicks.map(v => [v, 4]));
        xt.forEach(([v, len]) => {
            const px = Math.round(x.getPixelForValue(v)) + 0.5;
            ctx.moveTo(px, a.bottom); ctx.lineTo(px, a.bottom - len);
            ctx.moveTo(px, a.top); ctx.lineTo(px, a.top + len);
        });
        const yt = yMajorTicks.map(v => [v, 7]).concat(yMinorTicks.map(v => [v, 4]));
        yt.forEach(([v, len]) => {
            const py = Math.round(y.getPixelForValue(v)) + 0.5;
            ctx.moveTo(a.left, py); ctx.lineTo(a.left + len, py);
            ctx.moveTo(a.right, py); ctx.lineTo(a.right - len, py);
        });
        ctx.stroke();

        // tick labels
        xMajorTicks.forEach((v, i) => drawPower(ctx, xMajorExp[i], x.getPixelForValue(v), a.bottom + 17, 'center'));
        yMajorTicks.forEach((v, i) => drawPower(ctx, yMajorExp[i], a.left - 7, y.getPixelForValue(v) + 4, 'right'));

        // axis titles
        ctx.save();
        ctx.translate((a.left + a.right) / 2 - 6, a.bottom + 32);
        drawPieces(ctx, [
            ['M', 'italic 24px "Liberation Serif"'],
            ['\u03bd', 'italic 15px "Liberation Serif"', 5, '~'],
            ['1', '11px "Liberation Serif"', 8],
            [' [TeV]', '24px "Liberation Sans"']
        ]);
        ctx.restore();

        ctx.save();
        ctx.translate(a.left - 52, (a.top + a.bottom) / 2 + 18);
        ctx.rotate(-Math.PI / 2);
        drawPieces(ctx, [
            ['\u03a9', '24px "Liberation Serif"'],
            ['h', 'italic 24px "Liberation Serif"'],
            ['2', '16px "Liberation Serif"', -11]
        ]);
        ctx.restore();

        // legend
        const lx = a.right - 159, ly = a.bottom - 54;
        [['Higgs Funnel', '#ffffcc', '#ececb8'], ['Z Funnel', '#e1e1e1', '#d0d0d0']].forEach(([label, fill, edge], i) => {
            const top = ly + i * 24;
            ctx.fillStyle = fill;
            ctx.fillRect(lx, top, 34, 13);
            ctx.strokeStyle = edge;
            ctx.strokeRect(lx + 0.5, top + 0.5, 33, 12);
            ctx.fillStyle = '#000';
            ctx.font = '16px "Liberation Sans"';
            ctx.textAlign = 'left';
            ctx.textBaseline = 'alphabetic';
            ctx.fillText(label, lx + 45, top + 12);
        });

        // colour bar
        const cbL = a.right + 31, cbR = a.right + 56;
        const grad = ctx.createLinearGradient(0, a.bottom, 0, a.top);
        for (let i = 0; i <= 20; i++) grad.addColorStop(i / 20, rainbow(i * 5));
        ctx.fillStyle = grad;
        ctx.fillRect(cbL, a.top, cbR - cbL, a.bottom - a.top);
        ctx.strokeStyle = '#000';
        ctx.strokeRect(cbL + 0.5, a.top + 0.5, cbR - cbL - 1, a.bottom - a.top - 1);
        ctx.beginPath();
        ctx.fillStyle = '#000';
        ctx.font = '16px "Liberation Sans"';
        ctx.textAlign = 'left';
        ctx.textBaseline = 'middle';
        cbTicks.forEach(v => {
            const py = a.bottom - (v / 100) * (a.bottom - a.top);
            const ry = Math.round(py) + 0.5;
            ctx.moveTo(cbR, ry); ctx.lineTo(cbR - 5, ry);
            ctx.fillText(v.toFixed(1), cbR + 5, py);
        });
        ctx.stroke();

        ctx.save();
        ctx.translate(cbR + 74, (a.top + a.bottom) / 2 - 7);
        ctx.rotate(-Math.PI / 2);
        drawPieces(ctx, [
            ['N', 'italic 26px "Liberation Serif"'],
            ['\u2002\u2212\u2002', '26px "Liberation Serif"'],
            ['N', 'italic 26px "Liberation Serif"'],
            ['\u2032', '26px "Liberation Serif"'],
            ['  content [%]', '24px "Liberation Sans"']
        ]);
        ctx.restore();
        ctx.restore();
    }
};

const pointStyle = (data, color, r) => ({
    data: toXY(data),
    pointRadius: r,
    pointBorderWidth: 0,
    pointBackgroundColor: color,
    pointBorderColor: color,
    pointHoverRadius: r
});

const ctx = document.getElementById('relic').getContext('2d');
new Chart(ctx, {
    type: 'scatter',
    data: {
        datasets: [
            {
                data: mixedPoints.map(([x, y]) => ({x, y})),
                pointRadius: 1.7,
                pointBorderWidth: 0,
                pointBackgroundColor: mixedPoints.map(p => rainbow(p[2]))
            },
            pointStyle([].concat(redCloud, redLeft, redRight, redSparse, redLow, redFunnel), RED, 2.1),
            pointStyle([].concat(violetTail, violetPeak, violetBowl, violetAbove, violetTrack, violetStray), VIOLET, 1.8),
            {
                data: toXY(violetCore),
                showLine: true,
                fill: 'shape',
                clip: false,
                backgroundColor: VIOLET,
                borderColor: VIOLET,
                borderWidth: 1,
                pointRadius: 0,
                tension: 0
            }
        ]
    },
    options: {
        responsive: false,
        animation: false,
        events: [],
        layout: { padding: { left: 100, right: 204, top: 60, bottom: 60 } },
        scales: {
            x: { type: 'logarithmic', min: xRange[0], max: xRange[1], display: false },
            y: { type: 'logarithmic', min: yRange[0], max: yRange[1], display: false }
        },
        plugins: {
            legend: { display: false },
            tooltip: { enabled: false }
        }
    },
    plugins: [decor]
});
</script>
</body>
</html>
